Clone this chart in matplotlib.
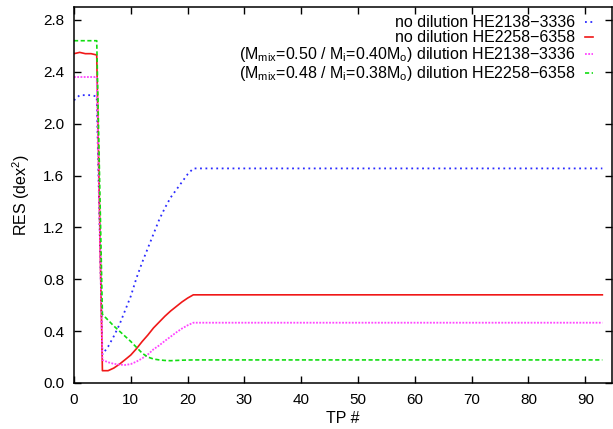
import matplotlib
matplotlib.use("Agg")
import matplotlib.pyplot as plt

plt.rcParams['font.family'] = ['Liberation Sans', 'DejaVu Sans']
plt.rcParams['mathtext.default'] = 'regular'

# turning points: every TP up to 21, then the flat tail out to the last one
tp = list(range(22)) + [93]

res_nodil_2138 = [2.18, 2.22, 2.22, 2.22, 2.21, 0.22, 0.28, 0.36, 0.45, 0.56, 0.67,
                  0.81, 0.93, 1.04, 1.15, 1.26, 1.35, 1.43, 1.49, 1.55, 1.61, 1.655, 1.655]
res_nodil_2258 = [2.54, 2.55, 2.54, 2.54, 2.53, 0.095, 0.095, 0.115, 0.145, 0.18, 0.216,
                  0.265, 0.32, 0.37, 0.425, 0.47, 0.515, 0.555, 0.59, 0.625, 0.655, 0.68, 0.68]
res_dil_2138 = [2.36, 2.36, 2.36, 2.36, 2.36, 0.178, 0.16, 0.148, 0.142, 0.139, 0.146,
                0.165, 0.19, 0.22, 0.26, 0.29, 0.325, 0.357, 0.39, 0.42, 0.445, 0.465, 0.465]
res_dil_2258 = [2.64, 2.64, 2.64, 2.64, 2.64, 0.53, 0.485, 0.44, 0.40, 0.36, 0.32,
                0.275, 0.23, 0.20, 0.185, 0.178, 0.174, 0.172, 0.174, 0.176, 0.177, 0.178, 0.178]

labels = [
    'no dilution HE2138\u22123336',
    'no dilution HE2258\u22126358',
    '(M$_{mix}$=0.50 / M$_{i}$=0.40M$_{o}$) dilution HE2138\u22123336',
    '(M$_{mix}$=0.48 / M$_{i}$=0.38M$_{o}$) dilution HE2258\u22126358',
]

fig = plt.figure(figsize=(6.13, 4.29), dpi=100)
ax = fig.add_axes([74 / 613, 1 - 383 / 429, 538 / 613, 376 / 429])

ax.plot(tp, res_nodil_2138, color='#2a2aff', lw=1.3, ls=(0, (1, 2)), label=labels[0])
ax.plot(tp, res_nodil_2258, color='#f01818', lw=1.2, ls='-', label=labels[1])
ax.plot(tp, res_dil_2138, color='#ff44ff', lw=1.3, ls=(0, (1, 0.8)), label=labels[2])
ax.plot(tp, res_dil_2258, color='#11dd11', lw=1.2, ls=(0, (2.5, 1.5)), label=labels[3])

ax.set_xlim(0, 94.7)
ax.set_ylim(0, 2.9)
ax.set_xticks(range(0, 91, 10))
ax.set_yticks([0.0, 0.4, 0.8, 1.2, 1.6, 2.0, 2.4, 2.8])
ax.set_yticklabels([f'{v:.1f}' for v in ax.get_yticks()])
ax.tick_params(direction='in', length=5, width=1, top=True, right=True,
               labelsize=11, pad=7)
for s in ax.spines.values():
    s.set_linewidth(1.1)

ax.set_xlabel('TP #', fontsize=11.5, labelpad=3)
ax.set_ylabel('RES (dex$^{2}$)', fontsize=11.5, labelpad=8)

ax.legend(loc='upper right', bbox_to_anchor=(0.965, 0.978), frameon=False,
          markerfirst=False, handlelength=0.5, handletextpad=0.6,
          labelspacing=0.0, borderpad=0, borderaxespad=0, fontsize=11.5)

fig.savefig('out.png', dpi=100)
